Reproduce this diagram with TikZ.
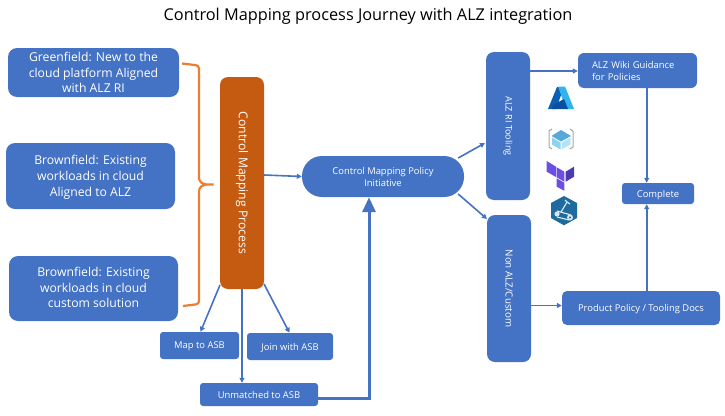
\documentclass[tikz,border=0pt]{standalone}
\usepackage{fontspec}
\setmainfont{Open Sans}
\usetikzlibrary{arrows.meta,calc}
\definecolor{bluebox}{HTML}{4472C4}
\definecolor{orangebox}{HTML}{C55A11}
\definecolor{bracecol}{HTML}{ED7D31}
\definecolor{azdark}{HTML}{0A5FB4}
\definecolor{azmid}{HTML}{0B4FA0}
\definecolor{azlight}{HTML}{2FB4EE}
\definecolor{cubetop}{HTML}{59A9D8}
\definecolor{cubel}{HTML}{8CD3EE}
\definecolor{cuber}{HTML}{B4E4F4}
\definecolor{tfl}{HTML}{6C4FE0}
\definecolor{tfd}{HTML}{4A3BB0}
\definecolor{hexc}{HTML}{1F6A9E}
\definecolor{hexl}{HTML}{D5E4EE}
\tikzset{
  box/.style={fill=bluebox,text=white,rounded corners=#1,inner sep=0pt,align=center,font=\fontsize{9.4}{12}\selectfont},
  box/.default=4pt,
  bigbox/.style={box=9pt,font=\fontsize{12.2}{15.7}\selectfont},
  vbox/.style={box=8pt,rotate=-90,font=\fontsize{9.4}{11}\selectfont},
  conn/.style={draw=bluebox,line width=1.6pt,-{Triangle[length=5pt,width=5pt]}},
  bigconn/.style={draw=bluebox,line width=3pt,-{Triangle[length=15pt,width=13pt]}},
  bracket/.style={draw=bracecol,line width=2.2pt,rounded corners=3pt},
}
\begin{document}
\begin{tikzpicture}[x=1pt,y=-1pt]
\useasboundingbox (0,0) rectangle (725,415);
\node[font=\fontsize{16.3}{19}\selectfont,text=black] (title) at (368,16) {Control Mapping process Journey with ALZ integration};

\node[bigbox,minimum width=171pt,minimum height=49pt] (g1) at (93.5,72.5) {Greenfield: New to the\\cloud platform Aligned\\with ALZ RI};
\node[bigbox,minimum width=169pt,minimum height=66pt,text depth=-3pt] (b1) at (90.5,176) {Brownfield: Existing\\workloads in cloud\\Aligned to ALZ};
\node[bigbox,minimum width=169pt,minimum height=65pt,text depth=2pt] (b2) at (93.5,288.5) {Brownfield: Existing\\workloads in cloud\\custom solution};

\node[vbox,fill=orangebox,minimum width=212pt,minimum height=44pt,font=\fontsize{12.2}{14}\selectfont] (cm) at (242,183) {Control Mapping Process};
\node[box=20pt,minimum width=162pt,minimum height=41pt,text depth=-1pt] (pol) at (383,176.5) {Control Mapping Policy\\Initiative};
\node[vbox,minimum width=148pt,minimum height=44pt,font=\fontsize{9.1}{11}\selectfont] (ri) at (508,126) {ALZ RI Tooling};
\node[vbox,minimum width=147pt,minimum height=44pt,font=\fontsize{9.8}{11}\selectfont] (non) at (509,288.5) {Non ALZ/Custom};
\node[box=6pt,minimum width=119pt,minimum height=35pt,align=left,text width=91pt] (wiki) at (637.5,70.5) {ALZ Wiki Guidance\\for Policies};
\node[box=3pt,minimum width=72pt,minimum height=21pt,text depth=-6pt] (comp) at (658,193.5) {Complete};
\node[box=5pt,minimum width=158pt,minimum height=34pt,text depth=-6pt] (prod) at (641,308) {Product Policy / Tooling Docs};
\node[box=3pt,minimum width=79pt,minimum height=27pt,text depth=-6pt] (map) at (199.5,345.5) {Map to ASB};
\node[box=3pt,minimum width=86pt,minimum height=27pt,text depth=-4.5pt] (join) at (290,346.5) {Join with ASB};
\node[box=3pt,minimum width=118pt,minimum height=23pt,text depth=-5pt] (un) at (259,394.5) {Unmatched to ASB};

\coordinate (c1) at ($(cm.center)+(22,-8)$);
\draw[conn] (c1) -- (pol.west);
\coordinate (p0) at ($(pol.east)+(-6,-18.5)$);
\coordinate (q0) at ($(ri.center)+(-23,17)$);
\draw[conn] (p0) -- (q0);
\coordinate (p1) at ($(pol.east)+(-6,17.5)$);
\coordinate (q1) at ($(non.center)+(-22,-69.5)$);
\draw[conn] (p1) -- (q1);
\coordinate (r1) at ($(ri.center)+(22,-55)$);
\draw[conn] (r1) -- (r1 -| wiki.west);
\coordinate (w1) at ($(wiki.south)+(9.2,0)$);
\draw[conn] (w1) -- (w1 |- comp.north);
\coordinate (w2) at ($(prod.north)+(5.7,0)$);
\draw[conn] (w2) -- (w2 |- comp.south);
\coordinate (n1) at ($(non.center)+(22,17)$);
\draw[conn] (n1) -- (n1 -| prod.west);
\draw[conn] ($(cm.center)+(-22,102)$) -- ($(map.north)+(1,0)$);
\draw[conn] (cm.east) -- (cm.east |- un.north);
\draw[conn] ($(cm.center)+(22,101)$) -- ($(join.north)+(-0.5,0)$);
\coordinate (u1) at ($(un.east)+(-2,3.5)$);
\coordinate (u2) at ($(pol.south)+(-14,0)$);
\draw[bigconn] (u1) -- (u1 -| u2) -- (u2);
\draw[bracket] (182,63.5) -- (199,65.5) -- (199,181) -- (204,184.5) -- (215.5,184.5) -- (204,184.5) -- (199,188) -- (199,304) -- (183,306);

% Azure
\fill[azdark] (548,109) -- (557,87) -- (564,87) -- (556,109) -- cycle;
\fill[azlight] (558,86.5) -- (565,86.5) -- (574,109) -- (566,109) -- cycle;
\fill[azmid] (553,105) -- (564,99) -- (568,109) -- (552,109) -- cycle;
% cube
\draw[gray!70,line width=1pt] (552,129) -- (549,131) -- (549,147) -- (552,149);
\draw[gray!70,line width=1pt] (570,129) -- (573,131) -- (573,147) -- (570,149);
\fill[cubetop] (561,130) -- (571,136) -- (561,141.5) -- (551.5,136) -- cycle;
\fill[cubel] (552,137.5) -- (560.5,142.5) -- (560.5,149.5) -- (552,144.5) -- cycle;
\fill[cuber] (570.5,137.5) -- (561.5,142.5) -- (561.5,149.5) -- (570.5,144.5) -- cycle;
% Terraform
\fill[tfl] (546.7,161) -- (556,166.7) -- (556,177) -- (546.7,171.7) -- cycle;
\fill[tfl] (556.7,167.3) -- (564.3,171.7) -- (564.3,181.7) -- (556.7,177.3) -- cycle;
\fill[tfd] (565.7,171.7) -- (574,166.7) -- (574,176.7) -- (565.7,181.7) -- cycle;
\fill[tfl] (556.7,178.3) -- (564.3,182.7) -- (564.3,190.7) -- (556.7,186.7) -- cycle;
% Hex
\fill[hexc] (564,196) -- (577,203) -- (577,218) -- (564,225.3) -- (551,218) -- (551,203) -- cycle;
\draw[hexl,line width=1.2pt] (557,211) -- (571,215) (557,217) -- (569,220) (561,212) -- (567,202) (567,202) -- (570,204) (567,202) -- (565,200);
\fill[hexl] (557,214) circle (2.6pt) (570,217.5) circle (3pt);
\fill[hexc] (570,217.5) circle (1.2pt);
\end{tikzpicture}
\end{document}
